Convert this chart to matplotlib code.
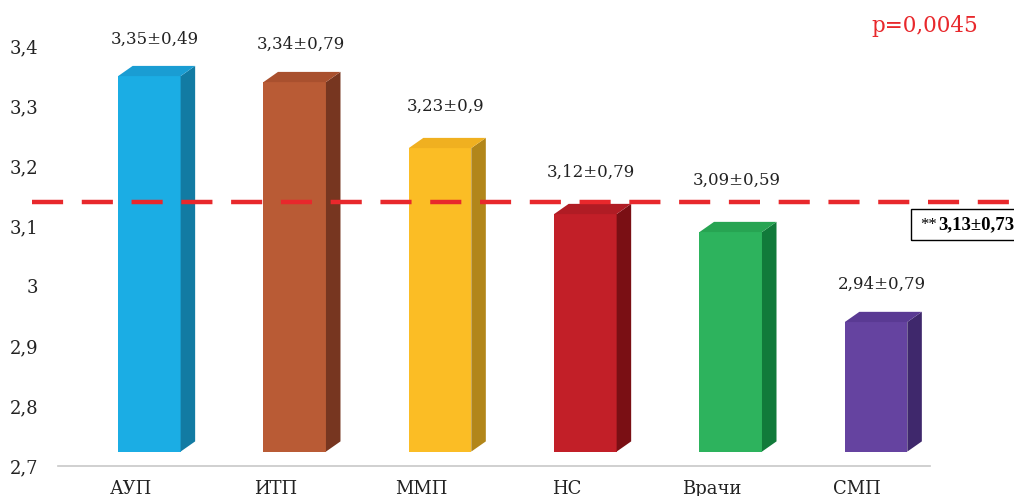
import matplotlib
matplotlib.use("Agg")
import matplotlib.pyplot as plt
from matplotlib.patches import Polygon
import numpy as np

categories = ["АУП", "ИТП", "ММП", "НС", "Врачи", "СМП"]
means = [3.35, 3.34, 3.23, 3.12, 3.09, 2.94]
sds = [0.49, 0.79, 0.9, 0.79, 0.59, 0.79]
overall_mean = 3.13
overall_sd = 0.73
mean_line_level = 3.14
p_text = "p=0,0045"
yticks = [2.7, 2.8, 2.9, 3.0, 3.1, 3.2, 3.3, 3.4]
ytick_labels = ["2,7", "2,8", "2,9", "3", "3,1", "3,2", "3,3", "3,4"]

front_colors = ["#1badE4", "#b95b35", "#fbbd25", "#c21f28", "#2db35d", "#6543a0"]
side_colors = ["#127ba3", "#773620", "#b2861a", "#7a0f14", "#117a3a", "#3f286c"]
top_colors = ["#1a9dd3", "#a9502e", "#f0b020", "#b01c24", "#27a452", "#5a3a93"]
label_offsets_pt = [20, 21, 24, 24, 31, 21]

def fmt(v):
    s = ("%.2f" % v).rstrip("0").rstrip(".")
    return s.replace(".", ",")

plt.rcParams["font.family"] = ["DejaVu Serif"]

fig = plt.figure(figsize=(10.14, 4.96), dpi=100)
ax = fig.add_axes([0.057, 0.0605, 0.86, 0.907])
ymin, ymax = 2.7, 3.45
ax.set_ylim(ymin, ymax)
ax.set_xlim(-0.5, len(categories) - 0.5)

bottom = 2.724
width = 0.43
offset = 0.13
depth = 0.10
dy = 0.017

x = np.arange(len(categories))
ax.bar(x + offset, np.array(means) - bottom, bottom=bottom, width=width,
       color=front_colors, zorder=3, linewidth=0)
for i, v in enumerate(means):
    xl = x[i] + offset - width / 2
    xr = x[i] + offset + width / 2
    side = Polygon([(xr, bottom), (xr + depth, bottom + dy), (xr + depth, v + dy), (xr, v)],
                   closed=True, facecolor=side_colors[i], edgecolor="none", zorder=3)
    top = Polygon([(xl, v), (xr, v), (xr + depth, v + dy), (xl + depth, v + dy)],
                  closed=True, facecolor=top_colors[i], edgecolor="none", zorder=3)
    ax.add_patch(side)
    ax.add_patch(top)
    ax.annotate(f"{fmt(v)}±{fmt(sds[i])}", (x[i] + offset + depth / 2 - 0.01, v),
                xytext=(0, label_offsets_pt[i]), textcoords="offset points",
                ha="center", va="bottom", fontsize=12, color="#222222", zorder=5)

# mean dashed line
ax.plot([-0.68, 6.07], [mean_line_level, mean_line_level], color="#e8282c", lw=3.2,
        dashes=(7, 4.2), clip_on=False, zorder=4)

# boxed overall mean
box_y = mean_line_level - 0.038
ax.annotate("**", (5.435, box_y), xytext=(0, 0), textcoords="offset points",
            ha="left", va="center", fontsize=12, color="black", zorder=6,
            family="Liberation Serif", annotation_clip=False)
ax.annotate(f"{fmt(overall_mean)}±{fmt(overall_sd)}", (5.435, box_y),
            xytext=(12.5, 0), textcoords="offset points", ha="left", va="center",
            fontsize=13.5, fontweight="bold", color="black", zorder=6,
            family="Liberation Serif", annotation_clip=False)
box = plt.Rectangle((5.37, mean_line_level - 0.064), 0.75, 0.053, fill=False,
                    edgecolor="black", lw=1.0, clip_on=False, zorder=5)
ax.add_patch(box)

fig.text(0.912, 0.948, p_text, color="#e8282c", fontsize=15.5, ha="center", va="center")

ax.set_yticks(yticks)
ax.set_yticklabels(ytick_labels, fontsize=13, color="#222222")
ax.set_xticks(x)
ax.set_xticklabels(categories, fontsize=13, color="#222222")
ax.tick_params(axis="y", length=0, pad=14)
ax.tick_params(axis="x", length=0, pad=10)
for s in ["top", "right", "left"]:
    ax.spines[s].set_visible(False)
ax.spines["bottom"].set_color("#c8c8c8")
ax.spines["bottom"].set_linewidth(1.2)

fig.savefig("out.png", dpi=100)
